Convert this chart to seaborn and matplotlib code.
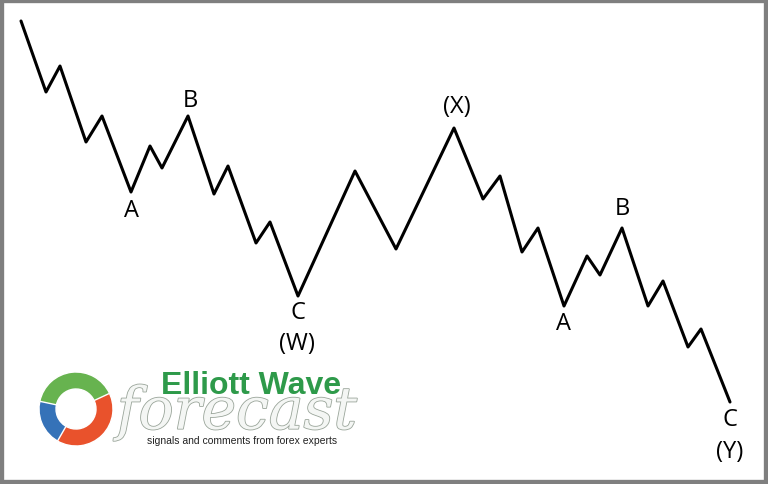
import matplotlib
matplotlib.use('Agg')
import matplotlib.pyplot as plt
import matplotlib.patheffects as pe
from matplotlib.patches import Wedge, Rectangle
import seaborn as sns

# wave pivots (picture units, y grows downward)
wave_x = [21, 46, 60, 86, 102, 131, 150, 162, 188, 214, 228, 256, 270, 298,
          355, 396, 454, 483, 500, 522, 538, 564, 587, 600, 622, 648, 663,
          688, 701, 730]
wave_y = [22, 93, 67, 143, 117, 193, 147, 169, 117, 195, 167, 244, 223, 297,
          172, 250, 129, 200, 177, 253, 229, 307, 257, 276, 229, 307, 282,
          348, 330, 403]

label_text = ['A', 'B', 'C', '(W)', '(X)', 'A', 'B', 'C', '(Y)']
label_x = [131, 190, 298, 297, 457, 564, 622, 730, 730]
label_y = [211, 101, 313, 344, 107, 324, 209, 420, 452]

sns.set_style('white')
plt.rcParams['font.family'] = ['Open Sans', 'DejaVu Sans']

fig = plt.figure(figsize=(7.68, 4.85), dpi=100)
ax = fig.add_axes([0, 0, 1, 1])
ax.set_xlim(0, 768)
ax.set_ylim(485, 0)
ax.axis('off')

sns.lineplot(x=wave_x, y=wave_y, sort=False, color='black', linewidth=2.2,
             ax=ax, legend=False)

for t, x, y in zip(label_text, label_x, label_y):
    ax.text(x, y, t, fontsize=17, ha='center', va='center', color='black')

# frame
ax.add_patch(Rectangle((0, 0), 768, 485, fill=False, edgecolor='#7f7f7f',
                       linewidth=6, clip_on=False))

# logo swirl (y axis is inverted, so angles run clockwise on screen)
cx, cy = 76, 410
ax.add_patch(Wedge((cx, cy), 37, 115, 200, width=17, facecolor='#3572b8',
                   edgecolor='white', linewidth=1))
ax.add_patch(Wedge((cx, cy), 37, -30, 120, width=17, facecolor='#e9522c',
                   edgecolor='white', linewidth=1))
ax.add_patch(Wedge((cx, cy), 37, -168, -25, width=17, facecolor='#67b34f',
                   edgecolor='white', linewidth=1))

fc = ax.text(237, 414, 'forecast', fontsize=42, style='italic',
             color='#f4f6f4', ha='center', va='center', family='DejaVu Serif')
fc.set_path_effects([pe.withStroke(linewidth=1.2, foreground='#9aa59a')])
ax.text(251, 386, 'Elliott Wave', fontsize=23, fontweight='bold',
        color='#2e9a4a', ha='center', va='center', family='Liberation Sans')
ax.text(242, 441, 'signals and comments from forex experts', fontsize=7.5,
        color='#222222', ha='center', va='center', family='Liberation Sans')

fig.savefig('out.png', dpi=100)
